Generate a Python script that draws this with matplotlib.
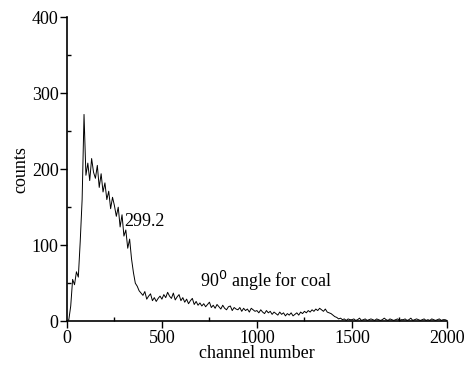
import matplotlib.pyplot as plt
from matplotlib.ticker import MultipleLocator

plt.rcParams['font.family'] = ['Liberation Serif', 'DejaVu Serif']

# channel grid (every 10 channels) and counts
channels = list(range(0, 2001, 10))
counts = [
    0, 2, 20, 55, 48, 65, 58, 105, 160, 272,
    192, 208, 185, 214, 196, 188, 205, 176, 194, 170,
    182, 160, 171, 148, 163, 152, 138, 150, 124, 140,
    112, 120, 96, 108, 82, 64, 50, 46, 40, 37,
    34, 39, 29, 33, 36, 27, 31, 26, 30, 33,
    29, 35, 31, 38, 33, 30, 37, 28, 32, 35,
    27, 31, 25, 29, 23, 27, 30, 22, 26, 21,
    24, 20, 23, 19, 22, 25, 18, 21, 17, 22,
    19, 16, 21, 17, 15, 19, 20, 14, 18, 16,
    15, 18, 13, 17, 14, 16, 12, 17, 15, 13,
    14, 11, 15, 12, 10, 14, 11, 13, 9, 12,
    10, 8, 12, 9, 11, 7, 10, 8, 11, 7,
    9, 11, 8, 12, 10, 13, 11, 14, 12, 15,
    13, 16, 14, 17, 15, 13, 16, 12, 11, 10,
    8, 6, 5, 3, 4, 2, 3, 1, 3, 2,
    2, 3, 1, 2, 4, 1, 2, 3, 1, 2,
    3, 2, 1, 3, 2, 1, 2, 4, 2, 1,
    3, 2, 1, 2, 3, 1, 2, 2, 3, 1,
    2, 4, 1, 2, 3, 2, 1, 2, 3, 1,
    2, 1, 3, 2, 1, 2, 3, 1, 2, 2,
    1,
]

fig = plt.figure(figsize=(4.68, 3.65), dpi=100)
ax = fig.add_axes([0.143, 0.12, 0.812, 0.833])

ax.plot(channels, counts, color='black', linewidth=0.7)

ax.set_xlim(0, 2000)
ax.set_ylim(0, 400)
ax.xaxis.set_major_locator(MultipleLocator(500))
ax.xaxis.set_minor_locator(MultipleLocator(250))
ax.yaxis.set_major_locator(MultipleLocator(100))
ax.yaxis.set_minor_locator(MultipleLocator(50))
ax.tick_params(which='major', direction='out', length=5, width=1,
               labelsize=13, pad=1)
ax.tick_params(which='minor', direction='in', length=3, width=1)

for side in ['top', 'right']:
    ax.spines[side].set_visible(False)
for side in ['left', 'bottom']:
    ax.spines[side].set_linewidth(1.2)

ax.set_xlabel('channel number', fontsize=13, labelpad=-1)
ax.set_ylabel('counts', fontsize=13, labelpad=2)

ax.text(300, 125, '299.2', fontsize=13)
ax.text(700, 45, r'90$^{0}$ angle for coal', fontsize=13)

plt.savefig('out.png', dpi=100)
